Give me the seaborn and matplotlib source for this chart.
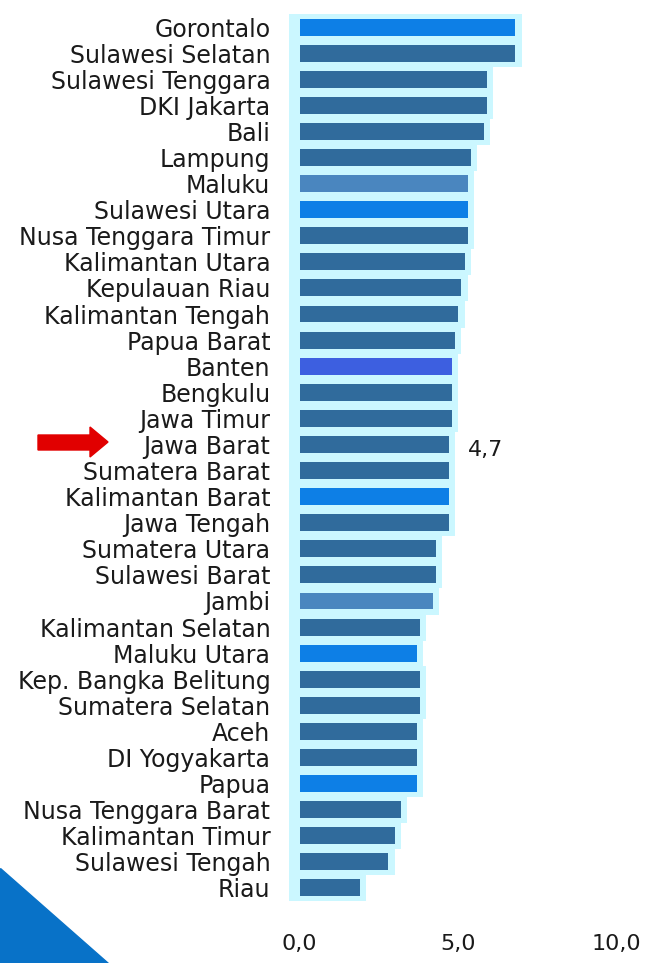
import matplotlib
matplotlib.use("Agg")
import matplotlib.pyplot as plt
from matplotlib.patches import Polygon
import numpy as np
import pandas as pd
import seaborn as sns

# Provinces, ordered from highest to lowest value
provinces = [
    "Gorontalo", "Sulawesi Selatan", "Sulawesi Tenggara", "DKI Jakarta", "Bali",
    "Lampung", "Maluku", "Sulawesi Utara", "Nusa Tenggara Timur", "Kalimantan Utara",
    "Kepulauan Riau", "Kalimantan Tengah", "Papua Barat", "Banten", "Bengkulu",
    "Jawa Timur", "Jawa Barat", "Sumatera Barat", "Kalimantan Barat", "Jawa Tengah",
    "Sumatera Utara", "Sulawesi Barat", "Jambi", "Kalimantan Selatan", "Maluku Utara",
    "Kep. Bangka Belitung", "Sumatera Selatan", "Aceh", "DI Yogyakarta", "Papua",
    "Nusa Tenggara Barat", "Kalimantan Timur", "Sulawesi Tengah", "Riau",
]
values = [
    6.8, 6.8, 5.9, 5.9, 5.8,
    5.4, 5.3, 5.3, 5.3, 5.2,
    5.1, 5.0, 4.9, 4.8, 4.8,
    4.8, 4.7, 4.7, 4.7, 4.7,
    4.3, 4.3, 4.2, 3.8, 3.7,
    3.8, 3.8, 3.7, 3.7, 3.7,
    3.2, 3.0, 2.8, 1.9,
]
x_ticks = [0, 5, 10]
x_tick_labels = ["0,0", "5,0", "10,0"]
labelled_province = "Jawa Barat"

# Bar colours
base_color = "#306b9c"
accent = {
    "Gorontalo": "#0d7fe6", "Sulawesi Utara": "#0d7fe6", "Kalimantan Barat": "#0d7fe6",
    "Maluku Utara": "#0d7fe6", "Papua": "#0d7fe6", "Banten": "#3d5fe0",
    "Maluku": "#4a86bf", "Jambi": "#4a86bf",
}
palette = {p: accent.get(p, base_color) for p in provinces}

df = pd.DataFrame({"province": provinces, "value": values})

W, H = 648, 963
fig = plt.figure(figsize=(W / 100, H / 100), dpi=100)
sns.set_style("white")
plt.rcParams["font.family"] = ["DejaVu Sans"]

# axes placed in pixel terms
x0_px, x1_px = 287, 642
y_top, y_bot = 14, 901
ax = fig.add_axes([x0_px / W, 1 - y_bot / H, (x1_px - x0_px) / W, (y_bot - y_top) / H])

# pale halo behind each row
ypos = np.arange(len(provinces))
ax.barh(ypos, df["value"] + 0.55, left=-0.35, height=1.04, color="#cbf7ff",
        linewidth=0, zorder=0)

sns.barplot(data=df, x="value", y="province", hue="province", palette=palette,
            legend=False, orient="h", width=0.65, ax=ax, zorder=2, saturation=1,
            linewidth=0, edgecolor="none")

ax.set_xlim(-0.4, 10.8)
ax.set_ylim(len(provinces) - 0.5, -0.5)
ax.set_xticks(x_ticks)
ax.set_xticklabels(x_tick_labels)
ax.set_xlabel("")
ax.set_ylabel("")
for s in ax.spines.values():
    s.set_visible(False)
ax.tick_params(axis="y", length=0, pad=12, labelsize=17, labelcolor="#1a1a1a")
ax.tick_params(axis="x", length=0, pad=24, labelsize=16, labelcolor="#1a1a1a")

# value label for the highlighted province
i = provinces.index(labelled_province)
v = values[i]
ax.text(v + 0.6, i + 0.2, f"{v:.1f}".replace(".", ","), va="center", ha="left",
        fontsize=16, color="#1a1a1a")

def px(points):
    return [(x / W, 1 - y / H) for x, y in points]

# red pointer arrow next to the labelled province
arrow = Polygon(px([(38, 435), (90, 435), (90, 427), (108, 442), (90, 457), (90, 450), (38, 450)]),
                closed=True, transform=fig.transFigure, color="#e10000")
fig.add_artist(arrow)

# blue corner wedge
wedge = Polygon(px([(0, 868), (0, 963), (108, 963)]), closed=True,
                transform=fig.transFigure, color="#0872c8")
fig.add_artist(wedge)

fig.savefig("out.png", dpi=100)
